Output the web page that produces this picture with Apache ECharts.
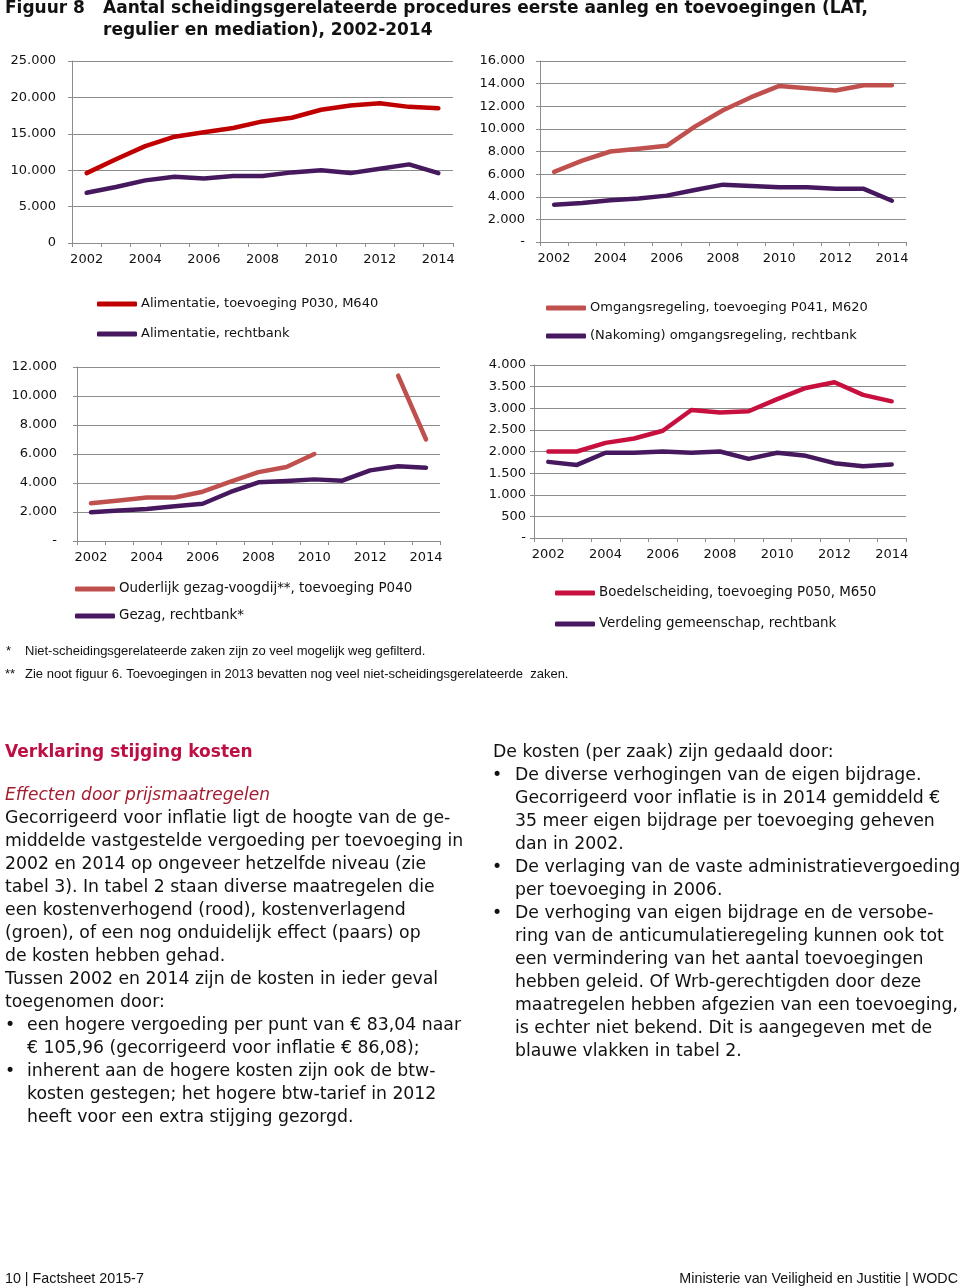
<!DOCTYPE html>
<html>
<head>
<meta charset="utf-8">
<script src="https://cdn.jsdelivr.net/npm/echarts@6/dist/echarts.min.js"></script>
<style>
html,body{margin:0;padding:0;background:#fff;}
#c{width:960px;height:1287px;}
</style>
</head>
<body>
<div id="c"></div>
<script>
// ---- data ----
const years = ['2002','2003','2004','2005','2006','2007','2008','2009','2010','2011','2012','2013','2014'];
const aliToev = [9600, 11500, 13300, 14600, 15200, 15800, 16700, 17200, 18300, 18900, 19200, 18700, 18500];
const aliRb   = [6900, 7700, 8600, 9100, 8850, 9200, 9200, 9700, 10000, 9600, 10200, 10800, 9600];
const omgToev = [6200, 7200, 8000, 8250, 8500, 10200, 11650, 12800, 13800, 13600, 13400, 13850, 13850];
const omgRb   = [3300, 3450, 3700, 3850, 4100, 4600, 5070, 4950, 4850, 4850, 4700, 4700, 3650];
const gezToev = [2600, 2800, 3000, 3000, 3400, 4100, 4750, 5100, 6000, null, null, 11400, 7000];
const gezRb   = [1980, 2100, 2200, 2400, 2570, 3380, 4050, 4140, 4250, 4160, 4870, 5150, 5060];
const boeToev = [2000, 2000, 2200, 2300, 2480, 2960, 2900, 2930, 3210, 3470, 3600, 3310, 3160];
const boeRb   = [1760, 1690, 1970, 1970, 2000, 1970, 2000, 1830, 1970, 1900, 1730, 1660, 1700];

const names = {
  aliToev: 'Alimentatie, toevoeging P030, M640',
  aliRb: 'Alimentatie, rechtbank',
  omgToev: 'Omgangsregeling, toevoeging P041, M620',
  omgRb: '(Nakoming) omgangsregeling, rechtbank',
  gezToev: 'Ouderlijk gezag-voogdij**, toevoeging P040',
  gezRb: 'Gezag, rechtbank*',
  boeToev: 'Boedelscheiding, toevoeging P050, M650',
  boeRb: 'Verdeling gemeenschap, rechtbank'
};
const yScales = [
  {min: 0, max: 25000, interval: 5000, zero: '0'},
  {min: 0, max: 16000, interval: 2000, zero: '-'},
  {min: 0, max: 12000, interval: 2000, zero: '-'},
  {min: 0, max: 4000, interval: 500, zero: '-'}
];

const titleLines = ['Aantal scheidingsgerelateerde procedures eerste aanleg en toevoegingen (LAT,', 'regulier en mediation), 2002-2014'];
const leftLines = [
  ['Gecorrigeerd voor inflatie ligt de hoogte van de ge-', 0],
  ['middelde vastgestelde vergoeding per toevoeging in', 0],
  ['2002 en 2014 op ongeveer hetzelfde niveau (zie', 0],
  ['tabel 3). In tabel 2 staan diverse maatregelen die', 0],
  ['een kostenverhogend (rood), kostenverlagend', 0],
  ['(groen), of een nog onduidelijk effect (paars) op', 0],
  ['de kosten hebben gehad.', 0],
  ['Tussen 2002 en 2014 zijn de kosten in ieder geval', 0],
  ['toegenomen door:', 0],
  ['een hogere vergoeding per punt van € 83,04 naar', 2],
  ['€ 105,96 (gecorrigeerd voor inflatie € 86,08);', 1],
  ['inherent aan de hogere kosten zijn ook de btw-', 2],
  ['kosten gestegen; het hogere btw-tarief in 2012', 1],
  ['heeft voor een extra stijging gezorgd.', 1]
];
const rightLines = [
  ['De kosten (per zaak) zijn gedaald door:', 0],
  ['De diverse verhogingen van de eigen bijdrage.', 2],
  ['Gecorrigeerd voor inflatie is in 2014 gemiddeld €', 1],
  ['35 meer eigen bijdrage per toevoeging geheven', 1],
  ['dan in 2002.', 1],
  ['De verlaging van de vaste administratievergoeding', 2],
  ['per toevoeging in 2006.', 1],
  ['De verhoging van eigen bijdrage en de versobe-', 2],
  ['ring van de anticumulatieregeling kunnen ook tot', 1],
  ['een vermindering van het aantal toevoegingen', 1],
  ['hebben geleid. Of Wrb-gerechtigden door deze', 1],
  ['maatregelen hebben afgezien van een toevoeging,', 1],
  ['is echter niet bekend. Dit is aangegeven met de', 1],
  ['blauwe vlakken in tabel 2.', 1]
];

// ---- styling ----
const RED1 = '#C00000', RED2 = '#C0504D', RED4 = '#C8103F', PURPLE = '#46195E';
const GRID = '#8c8c8c';
const AX_FONT = 'DejaVu Sans';

function fmt(v) {
  return String(v).replace(/\B(?=(\d{3})+(?!\d))/g, '.');
}

const grids = [
  {left: 72, top: 61, width: 381, height: 182},
  {left: 540, top: 61, width: 366, height: 181},
  {left: 77, top: 367, width: 363, height: 174},
  {left: 534, top: 365, width: 372, height: 173}
];
const yMargins = [16, 15, 20, 8];

const xAxes = grids.map((g, i) => ({
  type: 'category', gridIndex: i, data: years, boundaryGap: true,
  axisLine: {lineStyle: {color: GRID, width: 1}},
  axisTick: {show: true, interval: 0, length: 4, lineStyle: {color: GRID}},
  axisLabel: {interval: 1, color: '#111', fontFamily: AX_FONT, fontSize: 13, margin: 10}
}));
const yAxes = yScales.map((s, i) => ({
  type: 'value', gridIndex: i, min: s.min, max: s.max, interval: s.interval,
  axisLine: {show: true, lineStyle: {color: GRID, width: 1}},
  axisTick: {show: true, length: 4, lineStyle: {color: GRID}},
  splitLine: {show: true, lineStyle: {color: GRID, width: 1}},
  axisLabel: {color: '#111', fontFamily: AX_FONT, fontSize: 13, margin: yMargins[i],
    formatter: v => v === 0 ? s.zero : fmt(v)}
}));

function line(name, data, idx, color) {
  return {
    type: 'line', name, data, xAxisIndex: idx, yAxisIndex: idx,
    showSymbol: false, symbol: 'none', connectNulls: false, smooth: false,
    lineStyle: {color, width: 4.5, cap: 'round', join: 'round'},
    itemStyle: {color}, emphasis: {disabled: true}
  };
}

const series = [
  line(names.aliToev, aliToev, 0, RED1),
  line(names.aliRb, aliRb, 0, PURPLE),
  line(names.omgToev, omgToev, 1, RED2),
  line(names.omgRb, omgRb, 1, PURPLE),
  line(names.gezToev, gezToev, 2, RED2),
  line(names.gezRb, gezRb, 2, PURPLE),
  line(names.boeToev, boeToev, 3, RED4),
  line(names.boeRb, boeRb, 3, PURPLE)
];

function legend(data, left, top, gap, fs) {
  return {
    data, left, top, orient: 'vertical', itemGap: gap, selectedMode: false,
    icon: 'roundRect', itemWidth: 40, itemHeight: 5,
    textStyle: {fontFamily: AX_FONT, fontSize: fs, color: '#111', lineHeight: 16, padding: [0,0,0,-1]}
  };
}
const legends = [
  legend([names.aliToev, names.aliRb], 92, 291, 14, 13),
  legend([names.omgToev, names.omgRb], 541, 295, 12, 13),
  legend([names.gezToev, names.gezRb], 70, 576, 11, 13.4),
  legend([names.boeToev, names.boeRb], 550, 580, 15, 13.4)
];

// ---- text graphics ----
const graphics = [];
function txt(text, x, y, font, fill, align) {
  graphics.push({type: 'text', silent: true, style: {
    text, x, y, font, fill: fill || '#111',
    align: align || 'left', verticalAlign: 'middle',
    textAlign: align || 'left', textVerticalAlign: 'middle'
  }});
}
const TF = 'bold 17px "DejaVu Sans"';
txt('Figuur 8', 5, 9, TF, '#111');
txt(titleLines[0], 103, 9, TF, '#111');
txt(titleLines[1], 103, 31, TF, '#111');

const FN = '13px "Liberation Sans"';
txt('*', 6, 651, FN);
txt('Niet-scheidingsgerelateerde zaken zijn zo veel mogelijk weg gefilterd.', 25, 651, FN);
txt('**', 5, 674, FN);
txt('Zie noot figuur 6. Toevoegingen in 2013 bevatten nog veel niet-scheidingsgerelateerde  zaken.', 25, 674, FN);

txt('Verklaring stijging kosten', 5, 753, 'bold 17px "DejaVu Sans"', '#BE0F45');
txt('Effecten door prijsmaatregelen', 5, 796, 'italic 17px "DejaVu Sans"', '#A51C30');
const BF = '17.3px "DejaVu Sans"';
leftLines.forEach((l, i) => {
  const y = 819 + i * 23;
  if (l[1] === 2) txt('•', 5, y, BF);
  txt(l[0], l[1] ? 27 : 5, y, BF);
});
rightLines.forEach((l, i) => {
  const y = 753 + i * 23;
  if (l[1] === 2) txt('•', 492, y, BF);
  txt(l[0], l[1] ? 515 : 493, y, BF);
});

const FF = '14.3px "Liberation Sans"';
txt('10 | Factsheet 2015-7', 5, 1279, FF);
txt('Ministerie van Veiligheid en Justitie | WODC', 958, 1279, FF, '#111', 'right');

const chart = echarts.init(document.getElementById('c'), null, {renderer: 'canvas'});
chart.setOption({
  animation: false,
  backgroundColor: '#fff',
  grid: grids,
  xAxis: xAxes,
  yAxis: yAxes,
  legend: legends,
  series,
  graphic: {elements: graphics}
});
</script>
</body>
</html>
